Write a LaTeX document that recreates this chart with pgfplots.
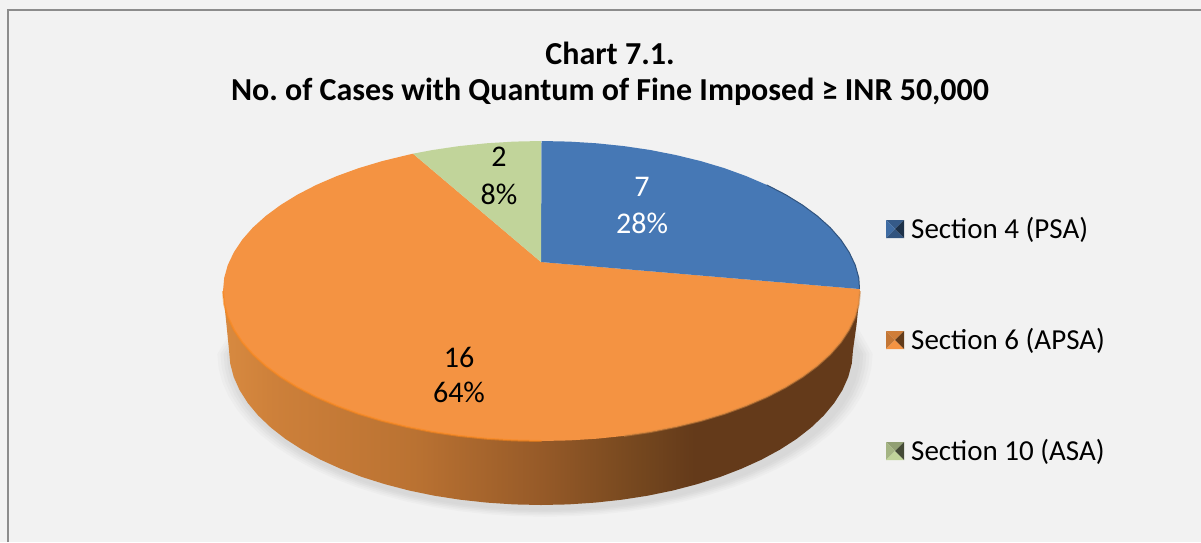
\documentclass[border=0pt]{standalone}
\usepackage{pgfplots}
\usepackage{pgfplotstable}
\usepackage{fontspec}
\setmainfont{Carlito}
\pgfplotsset{compat=1.18}
\definecolor{bg}{HTML}{F2F2F2}
\definecolor{pblue}{HTML}{4678B5}
\definecolor{porange}{HTML}{F49342}
\definecolor{pgreen}{HTML}{C1D49A}
\definecolor{wa}{RGB}{216,138,64}
\definecolor{wb}{RGB}{205,128,58}
\definecolor{wc}{RGB}{186,114,50}
\definecolor{wd}{RGB}{150,90,40}
\definecolor{we}{RGB}{115,70,30}
\definecolor{wf}{RGB}{100,58,26}
\pgfdeclarehorizontalshading{wallshade}{100bp}{
 color(0bp)=(wa);
 color(25bp)=(wa);
 color(29bp)=(wb);
 color(40bp)=(wc);
 color(50bp)=(wd);
 color(58bp)=(we);
 color(62bp)=(wf);
 color(75bp)=(wf);
 color(100bp)=(wf)}
% outline of the lower edge of the pie (wall foot), used for the soft shadow
\pgfplotstableread{
x y
260 300
229 350
230.2 363.5
233.7 376.9
239.6 390.1
247.8 403
258.2 415.5
270.8 427.5
285.4 438.9
302 449.6
320.4 459.6
340.5 468.7
362 477
385 484.2
409.1 490.5
434.3 495.7
460.2 499.7
486.8 502.6
513.8 504.4
541 505
568.2 504.4
595.2 502.6
621.8 499.7
647.7 495.7
672.9 490.5
697 484.2
720 477
741.5 468.7
761.6 459.6
780 449.6
796.6 438.9
811.2 427.5
823.8 415.5
834.2 403
842.4 390.1
848.3 376.9
851.8 363.5
853 350
825 300
}\footarc
\newcommand\shadowlayer[2]{\addplot[draw=none,fill=#2,forget plot] table[x expr={545+(\thisrow{x}-541)*#1},y expr={354+(\thisrow{y}-350)*#1}]{\footarc};}
\newcommand\legkey[5]{%
 \addplot[draw=none,fill=#2] coordinates {(886,#1-9) (904,#1-9) (895,#1)};
 \addplot[draw=none,fill=#3] coordinates {(886,#1-9) (886,#1+9) (895,#1)};
 \addplot[draw=none,fill=#4] coordinates {(886,#1+9) (904,#1+9) (895,#1)};
 \addplot[draw=none,fill=#5] coordinates {(904,#1-9) (904,#1+9) (895,#1)};}
\begin{document}
\frenchspacing
\begin{tikzpicture}
\begin{axis}[
 scale only axis,width=1201pt,height=542pt,
 xmin=0,xmax=1201,ymin=0,ymax=542,y dir=reverse,
 axis lines=none,clip=true,
 axis background/.style={fill=bg},
 cycle list={{black}},
 nodes={inner sep=0pt,font=\fontsize{29}{32}\selectfont}]
% frame
\addplot[draw=black!45,line width=1.3pt] coordinates {(8,542) (8,10) (1201,10)};
% shadow
\shadowlayer{1.050}{bg!96!gray}
\shadowlayer{1.040}{bg!91!gray}
\shadowlayer{1.030}{bg!86!gray}
\shadowlayer{1.020}{bg!81!gray}
\shadowlayer{1.010}{bg!77!gray}
% wall
\addplot[draw=none,shade,shading=wallshade] coordinates {
(223,291) (226.5,325) (229,350) (230.2,363.5) (233.7,376.9) (239.6,390.1) (247.8,403) (258.2,415.5) (270.8,427.5) (285.4,438.9) (302,449.6) (320.4,459.6) (340.5,468.7) (362,477) (385,484.2) (409.1,490.5) (434.3,495.7) (460.2,499.7) (486.8,502.6) (513.8,504.4) (541,505) (568.2,504.4) (595.2,502.6) (621.8,499.7) (647.7,495.7) (672.9,490.5) (697,484.2) (720,477) (741.5,468.7) (761.6,459.6) (780,449.6) (796.6,438.9) (811.2,427.5) (823.8,415.5) (834.2,403) (842.4,390.1) (848.3,376.9) (851.8,363.5) (853,350) (856.5,325) (860,291)};
% Section 6 (APSA): 16
\addplot[draw=none,fill=porange] coordinates {
(541,262) (413,153.7) (406.9,155.1) (382.2,161.1) (358.8,168.1) (336.8,176.1) (316.3,184.9) (297.5,194.6) (280.6,205) (265.7,216) (252.8,227.6) (242.2,239.7) (233.9,252.2) (227.8,265) (224.2,277.9) (223,291) (224.2,304.1) (227.8,317) (233.9,329.8) (242.2,342.3) (252.8,354.4) (265.7,366) (280.6,377) (297.5,387.4) (316.3,397.1) (336.8,405.9) (358.8,413.9) (382.2,420.9) (406.9,426.9) (432.6,432) (459.1,435.9) (486.2,438.7) (513.7,440.4) (541.5,441) (569.3,440.4) (596.8,438.7) (623.9,435.9) (650.4,432) (676.1,426.9) (700.8,420.9) (724.2,413.9) (746.2,405.9) (766.7,397.1) (785.5,387.4) (802.4,377) (817.3,366) (830.2,354.4) (840.8,342.3) (849.1,329.8) (855.2,317) (858.8,304.1) (860,291) (859.5,289)};
% rim highlight and shade
\addplot[draw=orange!60!porange,line width=2pt,opacity=.55] coordinates {(223,291) (224.2,304.1) (227.8,317) (233.9,329.8) (242.2,342.3) (252.8,354.4) (265.7,366) (280.6,377) (297.5,387.4) (316.3,397.1) (336.8,405.9) (358.8,413.9) (382.2,420.9) (406.9,426.9) (432.6,432) (459.1,435.9) (486.2,438.7) (513.7,440.4) (541.5,441)};
\addplot[draw=brown!70!porange,line width=2pt,opacity=.5] coordinates {(623.9,435.9) (650.4,432) (676.1,426.9) (700.8,420.9) (724.2,413.9) (746.2,405.9) (766.7,397.1) (785.5,387.4) (802.4,377) (817.3,366) (830.2,354.4) (840.8,342.3) (849.1,329.8) (855.2,317) (858.8,304.1) (860,291)};
% Section 4 (PSA): 7
\addplot[draw=none,fill=pblue] coordinates {
(541,262) (541.5,141) (569.3,141.6) (596.8,143.3) (623.9,146.1) (650.4,150) (676.1,155.1) (700.8,161.1) (724.2,168.1) (746.2,176.1) (766.7,184.9) (785.5,194.6) (802.4,205) (817.3,216) (830.2,227.6) (840.8,239.7) (849.1,252.2) (855.2,265) (858.8,277.9) (859.5,289)};
\addplot[draw=pblue!70!black,line width=1pt] coordinates {(766.7,184.9) (785.5,194.6) (802.4,205) (817.3,216) (830.2,227.6) (840.8,239.7) (849.1,252.2) (855.2,265) (858.8,277.9) (859.5,289)};
% Section 10 (ASA): 2
\addplot[draw=none,fill=pgreen] coordinates {
(541,262) (541,141) (513.7,141.6) (486.2,143.3) (459.1,146.1) (432.6,150) (413,153.7)};
% labels
\node[font=\fontsize{32}{34}\selectfont\bfseries] at (axis cs:610,53) {Chart 7.1.};
\node[font=\fontsize{32}{34}\selectfont\bfseries] at (axis cs:610,92) {No. of Cases with Quantum of Fine Imposed ≥ INR 50,000};
\node[text=white,font=\fontsize{30}{32}\selectfont] at (axis cs:642,187) {7};
\node[text=white,font=\fontsize{30}{32}\selectfont] at (axis cs:642,223) {28\%};
\node[font=\fontsize{30}{32}\selectfont] at (axis cs:499,157) {2};
\node[font=\fontsize{30}{32}\selectfont] at (axis cs:499,194) {8\%};
\node[font=\fontsize{30}{32}\selectfont] at (axis cs:459,357) {16};
\node[font=\fontsize{30}{32}\selectfont] at (axis cs:459,392) {64\%};
% legend
\legkey{229}{pblue!75!black}{pblue!90!black}{pblue!70!black}{pblue!40!black}
\legkey{340}{porange!85!black}{porange!80!black}{porange}{porange!40!black}
\legkey{451}{pgreen!75!black}{pgreen!85!black}{pgreen}{pgreen!35!black}
\node[anchor=west] at (axis cs:911,230) {Section 4 (PSA)};
\node[anchor=west] at (axis cs:911,341) {Section 6 (APSA)};
\node[anchor=west] at (axis cs:911,452) {Section 10 (ASA)};
\end{axis}
\end{tikzpicture}
\end{document}
